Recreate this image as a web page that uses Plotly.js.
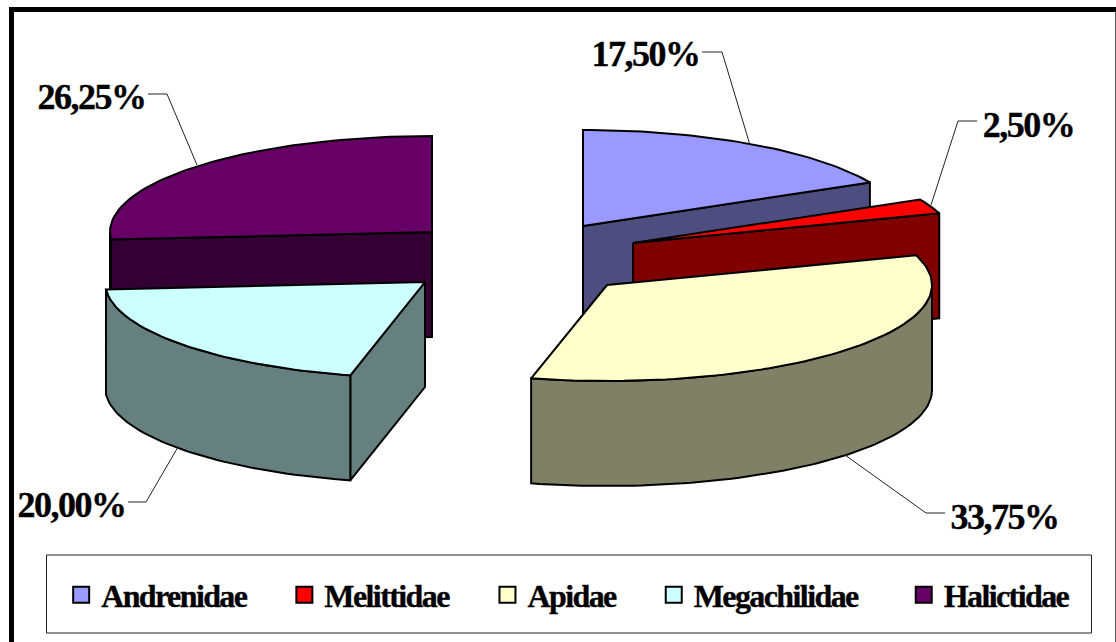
<!DOCTYPE html>
<html>
<head>
<meta charset="utf-8">
<script src="https://cdn.plot.ly/plotly-3.0.1.min.js"></script>
<style>
html,body{margin:0;padding:0;background:#fff}
#chart{width:1116px;height:642px}
/* Tall, tightly set bold captions. */
#chart .annotation-text{letter-spacing:-1.5px;stroke:#000;stroke-width:.35px}
#chart text[class*="legend"]{letter-spacing:-1.6px;stroke:#000;stroke-width:.35px}
</style>
</head>
<body>
<div id="chart"></div>
<script>
// Bee family shares, in pie order (clockwise from twelve o'clock).
const families = ['Andrenidae', 'Melittidae', 'Apidae', 'Megachilidae', 'Halictidae'];
const shares = [17.5, 2.5, 33.75, 20, 26.25];
const topColors = ['#9999FF', '#FF0000', '#FFFFCC', '#CCFFFF', '#660066'];
const wallColors = ['#4D4D80', '#800000', '#808066', '#668080', '#330033'];

// Pixel-space layout of the exploded slices and callouts.
const hubX = [583, 633, 607, 425, 432];
const hubY = [226, 243, 285, 282, 232];
const sliceRX = [322, 322, 325, 320, 322];
const labelX = [645, 1028, 1004, 71, 91];
const labelY = [54, 125, 517, 505, 97];
const leaderX = [[702, 722, 750], [977, 958, 931], [945, 926, 845], [128, 146, 178], [148, 167, 197]];
const leaderY = [[52, 52, 145], [121, 121, 205], [513, 513, 455], [502, 502, 447], [94, 94, 165]];
const legendX = [0.0548, 0.2548, 0.4368, 0.5858, 0.8098];

const RY = 96, DEPTH = 105;
const FONT = 'Liberation Serif';

const rimPoint = (i, deg, drop) => {
  const a = deg * Math.PI / 180;
  return [hubX[i] + sliceRX[i] * Math.sin(a), hubY[i] - RY * Math.cos(a) + drop];
};
const arc = (i, from, to, drop) => {
  const n = Math.max(2, Math.ceil(Math.abs(to - from) / 1.5));
  const pts = [];
  for (let k = 0; k <= n; k++) pts.push(rimPoint(i, from + (to - from) * k / n, drop));
  return pts;
};
const face = (pts, fill) => ({
  type: 'scatter', mode: 'lines', fill: 'toself', fillcolor: fill,
  x: pts.map(p => p[0]), y: pts.map(p => p[1]),
  line: {color: '#000', width: 2, shape: 'linear'},
  hoverinfo: 'skip', showlegend: false
});

// Cumulative start and end angle of every slice.
const starts = [], ends = [];
shares.reduce((sum, v, i) => {
  starts[i] = sum * 3.6;
  ends[i] = (sum + v) * 3.6;
  return sum + v;
}, 0);

function sliceFaces(i) {
  const out = [];
  const a0 = starts[i], a1 = ends[i];
  const hub = [hubX[i], hubY[i]];
  const hubLow = [hubX[i], hubY[i] + DEPTH];
  const radialWall = deg => {
    const p = rimPoint(i, deg, 0), q = rimPoint(i, deg, DEPTH);
    return face([hub, p, q, hubLow, hub], wallColors[i]);
  };
  if (a0 > 180 && a0 < 360) out.push(radialWall(a0));
  if (a1 > 0 && a1 < 180) out.push(radialWall(a1));
  const wa = Math.max(a0, 90), wb = Math.min(a1, 270);
  if (wb > wa) {
    const upper = arc(i, wa, wb, 0), lower = arc(i, wb, wa, DEPTH);
    const wall = upper.concat(lower);
    wall.push(upper[0]);
    out.push(face(wall, wallColors[i]));
  }
  const top = [hub].concat(arc(i, a0, a1, 0));
  top.push(hub);
  out.push(face(top, topColors[i]));
  return out;
}

// Painter's order: back slices first, front slices last.
const drawOrder = [0, 1, 2, 4, 3];
const traces = [];
drawOrder.forEach(i => traces.push(...sliceFaces(i)));

// Callout leaders.
families.forEach((f, i) => traces.push({
  type: 'scatter', mode: 'lines', x: leaderX[i], y: leaderY[i],
  line: {color: '#222', width: 1}, hoverinfo: 'skip', showlegend: false
}));

// One legend per family so each entry sits at its own position.
const layoutLegends = {};
families.forEach((f, i) => {
  const key = i === 0 ? 'legend' : 'legend' + (i + 1);
  traces.push({
    type: 'scatter', mode: 'markers', name: f, x: [null], y: [null],
    legend: key, showlegend: true, hoverinfo: 'skip',
    marker: {symbol: 'square', size: 16, color: topColors[i], line: {color: '#000', width: 2}}
  });
  layoutLegends[key] = {
    x: legendX[i], y: 0.0734, xanchor: 'left', yanchor: 'middle',
    bgcolor: 'rgba(0,0,0,0)', borderwidth: 0,
    font: {family: FONT, size: 32, color: '#000', weight: 700}
  };
});

const annotations = families.map((f, i) => ({
  xref: 'x', yref: 'y', x: labelX[i], y: labelY[i], showarrow: false,
  xanchor: 'center', yanchor: 'middle',
  text: '<b>' + shares[i].toFixed(2).replace('.', ',') + '%</b>',
  font: {family: FONT, size: 36, color: '#000'}
}));

const shapes = [
  // Chart frame: heavy top and left edges, hairline right edge.
  {type: 'rect', xref: 'x', yref: 'y', x0: 9, x1: 1116, y0: 7, y1: 12, fillcolor: '#000', line: {width: 0}},
  {type: 'rect', xref: 'x', yref: 'y', x0: 9, x1: 14, y0: 7, y1: 642, fillcolor: '#000', line: {width: 0}},
  {type: 'line', xref: 'x', yref: 'y', x0: 1115.5, x1: 1115.5, y0: 12, y1: 642, line: {color: '#555', width: 1}},
  // Legend box.
  {type: 'rect', xref: 'x', yref: 'y', x0: 46.5, x1: 1091.5, y0: 555, y1: 633, fillcolor: 'rgba(0,0,0,0)', line: {color: '#222', width: 1}}
];

const hiddenAxis = {visible: false, fixedrange: true, zeroline: false, showgrid: false};
const layout = Object.assign({
  width: 1116, height: 642,
  margin: {l: 0, r: 0, t: 0, b: 0},
  paper_bgcolor: '#fff', plot_bgcolor: '#fff',
  xaxis: Object.assign({range: [0, 1116]}, hiddenAxis),
  yaxis: Object.assign({range: [642, 0]}, hiddenAxis),
  annotations, shapes
}, layoutLegends);

Plotly.newPlot('chart', traces, layout, {displayModeBar: false, staticPlot: true});
</script>
</body>
</html>
